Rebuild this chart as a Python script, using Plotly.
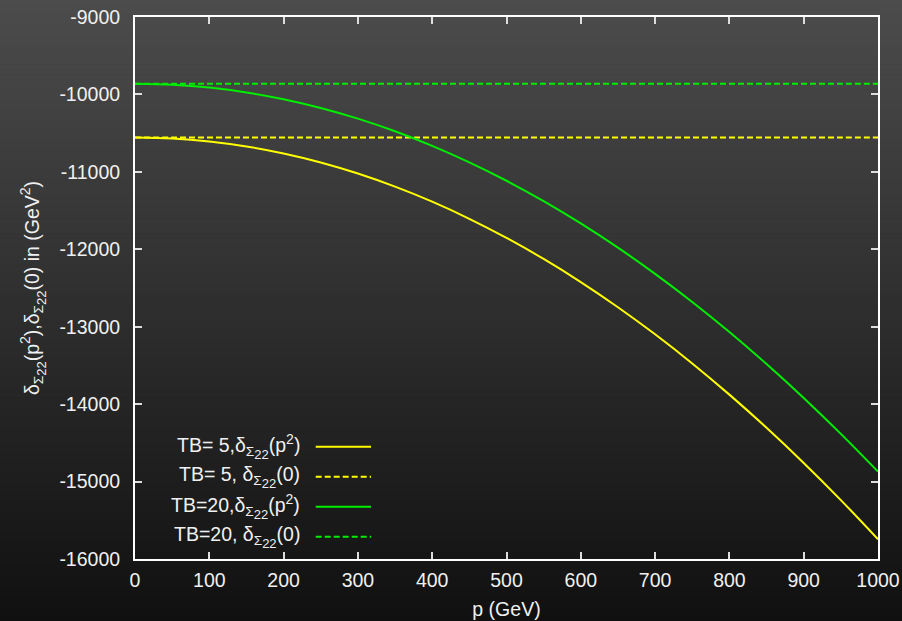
import plotly.graph_objects as go

# ---- data ----
p_gev = [0, 50, 100, 150, 200, 250, 300, 350, 400, 450, 500,
         550, 600, 650, 700, 750, 800, 850, 900, 950, 1000]
tb5_p2 = [-10555, -10568, -10607, -10672, -10763, -10879, -11022, -11191, -11385, -11606, -11853,
          -12125, -12423, -12748, -13098, -13474, -13877, -14305, -14759, -15239, -15745]
tb5_0 = [-10555] * len(p_gev)
tb20_p2 = [-9862, -9875, -9912, -9975, -10062, -10175, -10313, -10476, -10664, -10877, -11115,
           -11378, -11666, -11979, -12317, -12680, -13068, -13482, -13920, -14384, -14872]
tb20_0 = [-9862] * len(p_gev)

x_ticks = [0, 100, 200, 300, 400, 500, 600, 700, 800, 900, 1000]
y_ticks = [-9000, -10000, -11000, -12000, -13000, -14000, -15000, -16000]

SUB22 = "δ<sub>Σ<sub><span style=\"font-size:13px\">22</span></sub></sub>"
SQ = "<sup><span style=\"font-size:14px\">2</span></sup>"
legend_labels = [
    "TB= 5," + SUB22 + "(p" + SQ + ")",
    "TB= 5, " + SUB22 + "(0)",
    "TB=20," + SUB22 + "(p" + SQ + ")",
    "TB=20, " + SUB22 + "(0)",
]
y_title = SUB22 + "(p" + SQ + ")," + SUB22 + "(0) in (GeV" + SQ + ")"

W, H = 902, 621
ML, MR, MT, MB = 135, 24, 17, 62
PW, PH = W - ML - MR, H - MT - MB

YELLOW = "#ffff00"
GREEN = "#00ee00"
FONT = "Liberation Sans, Arial, sans-serif"
TXT = "#f0f0f0"
FS = 19.5

fig = go.Figure()
series = [
    (tb5_p2, YELLOW, "solid"),
    (tb5_0, YELLOW, "6px,3px"),
    (tb20_p2, GREEN, "solid"),
    (tb20_0, GREEN, "6px,3px"),
]
for (ys, col, dash), name in zip(series, legend_labels):
    fig.add_trace(go.Scatter(x=p_gev, y=ys, mode="lines", name=name,
                             line=dict(color=col, width=2, dash=dash, shape="spline"),
                             showlegend=False, cliponaxis=False))

shapes = []
# vertical gradient background
nb = 125
for i in range(nb):
    y0px = H * i / nb
    y1px = H * (i + 1) / nb
    t = (y0px + y1px) / 2 / H
    g = int(round(76 + (16 - 76) * t))
    col = f"rgb({g},{g},{g})"
    shapes.append(dict(type="rect", xref="paper", yref="paper",
                       x0=-ML / PW, x1=(W - ML) / PW,
                       y0=(H - MB - y1px) / PH - 0.0005, y1=(H - MB - y0px) / PH + 0.0005,
                       fillcolor=col, line=dict(width=0), layer="below"))

# custom legend (text on the left, sample on the right)
leg_y_px = [446.7, 476.7, 506.7, 536.7]
annotations = []
for (ys, col, dash), lab, ypx in zip(series, legend_labels, leg_y_px):
    yp = (H - MB - ypx) / PH
    shapes.append(dict(type="line", xref="paper", yref="paper",
                       x0=(315.7 - ML) / PW, x1=(371 - ML) / PW, y0=yp, y1=yp,
                       line=dict(color=col, width=2, dash=dash)))
    annotations.append(dict(xref="paper", yref="paper", x=(302 - ML) / PW, y=yp,
                            xanchor="right", yanchor="middle", showarrow=False,
                            text=lab, font=dict(family=FONT, size=FS, color=TXT)))

fig.update_layout(
    width=W, height=H,
    margin=dict(l=ML, r=MR, t=MT, b=MB, autoexpand=False),
    paper_bgcolor="#2e2e2e",
    plot_bgcolor="rgba(0,0,0,0)",
    font=dict(family=FONT, size=FS, color=TXT),
    shapes=shapes,
    annotations=annotations,
    showlegend=False,
)
fig.update_xaxes(range=[0, 1000], tickvals=x_ticks, ticktext=[str(v) for v in x_ticks],
                 automargin=False,
                 showgrid=False, zeroline=False, showline=True, linecolor="#ffffff", linewidth=2,
                 mirror="ticks", ticks="inside", ticklen=7, tickwidth=1.5, tickcolor="#dddddd",
                 ticklabelstandoff=3,
                 title=dict(text="p (GeV)", font=dict(family=FONT, size=FS, color=TXT), standoff=12))
fig.update_yaxes(range=[-16000, -9000], tickvals=y_ticks, ticktext=[str(v) for v in y_ticks],
                 automargin=False,
                 showgrid=False, zeroline=False, showline=True, linecolor="#ffffff", linewidth=2,
                 mirror="ticks", ticks="inside", ticklen=7, tickwidth=1.5, tickcolor="#dddddd",
                 ticklabelstandoff=9,
                 title=dict(text=y_title, font=dict(family=FONT, size=FS, color=TXT), standoff=15))

fig.write_html("out.html")
